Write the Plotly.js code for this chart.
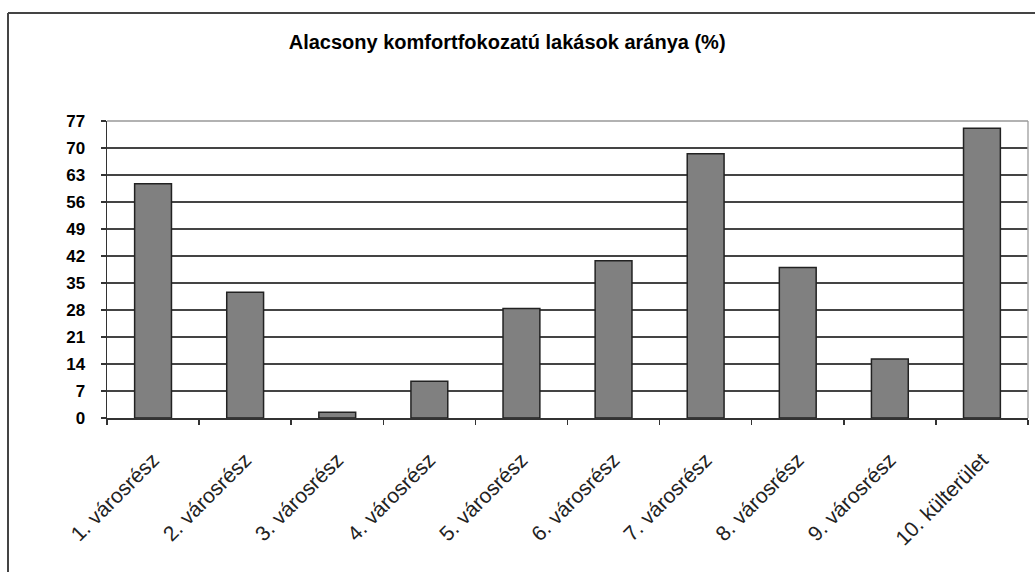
<!DOCTYPE html>
<html>
<head>
<meta charset="utf-8">
<script src="https://cdn.plot.ly/plotly-3.0.1.min.js"></script>
<style>
  html, body { margin: 0; padding: 0; background: #fff; }
  #chart { width: 1035px; height: 572px; }
</style>
</head>
<body>
<div id="chart"></div>
<script>
const categories = ["1. városrész", "2. városrész", "3. városrész", "4. városrész", "5. városrész",
                    "6. városrész", "7. városrész", "8. városrész", "9. városrész", "10. külterület"];
const values = [60.7, 32.6, 1.5, 9.5, 28.4, 40.8, 68.5, 39.0, 15.3, 75.1];
const yTicks = [0, 7, 14, 21, 28, 35, 42, 49, 56, 63, 70, 77];
const chartTitle = "Alacsony komfortfokozatú lakások aránya (%)";

const W = 1035, H = 572;
const L = 107, R = 1028, T = 121, B = 418;
const px = x => (x - L) / (R - L);
const py = y => (B - y) / (B - T);

const trace = {
  type: "bar",
  x: categories,
  y: values,
  marker: { color: "#808080", line: { color: "#222", width: 1.5 } },
  hoverinfo: "x+y"
};

const layout = {
  width: W, height: H,
  margin: { l: L, r: W - R, t: T, b: H - B, pad: 0 },
  paper_bgcolor: "#fff",
  plot_bgcolor: "#fff",
  showlegend: false,
  bargap: 0.6,
  title: {
    text: "<b>" + chartTitle + "</b>",
    x: 0.49, xanchor: "center",
    y: 1 - 42 / H, yanchor: "middle",
    font: { family: "Liberation Sans, Arial, sans-serif", size: 20, color: "#000" }
  },
  xaxis: {
    type: "category",
    showgrid: false,
    showline: true, linecolor: "#333", linewidth: 1.5,
    ticks: "outside", ticklen: 5, tickcolor: "#333", tickwidth: 1.5,
    tickson: "boundaries",
    tickangle: -45,
    ticklabelstandoff: 20,
    tickfont: { family: "Liberation Sans, Arial, sans-serif", size: 21, color: "#222" },
    fixedrange: true
  },
  yaxis: {
    range: [0, 77],
    tickmode: "array", tickvals: yTicks, ticktext: yTicks.map(String),
    showgrid: true, gridcolor: "#444", gridwidth: 1.5,
    showline: true, linecolor: "#333", linewidth: 1.5,
    ticks: "outside", ticklen: 5, tickcolor: "#333", tickwidth: 1.5,
    ticklabelstandoff: 12,
    tickfont: { family: "Liberation Sans, Arial, sans-serif", size: 17, color: "#000", weight: "bold" },
    zeroline: false,
    fixedrange: true
  },
  shapes: [
    { type: "line", xref: "paper", yref: "paper", x0: px(R), x1: px(R), y0: 0, y1: 1,
      line: { color: "#aaa", width: 1.5 } },
    { type: "line", xref: "paper", yref: "paper", x0: 0, x1: px(R), y0: 1, y1: 1,
      line: { color: "#999", width: 1.5 } },
    { type: "line", xref: "paper", yref: "paper", x0: px(8), x1: px(8), y0: py(13), y1: py(H + 5),
      line: { color: "#444", width: 2 } },
    { type: "line", xref: "paper", yref: "paper", x0: px(8), x1: px(W + 5), y0: py(13), y1: py(13),
      line: { color: "#444", width: 2 } }
  ]
};

Plotly.newPlot("chart", [trace], layout, { displayModeBar: false, staticPlot: true });
</script>
</body>
</html>
